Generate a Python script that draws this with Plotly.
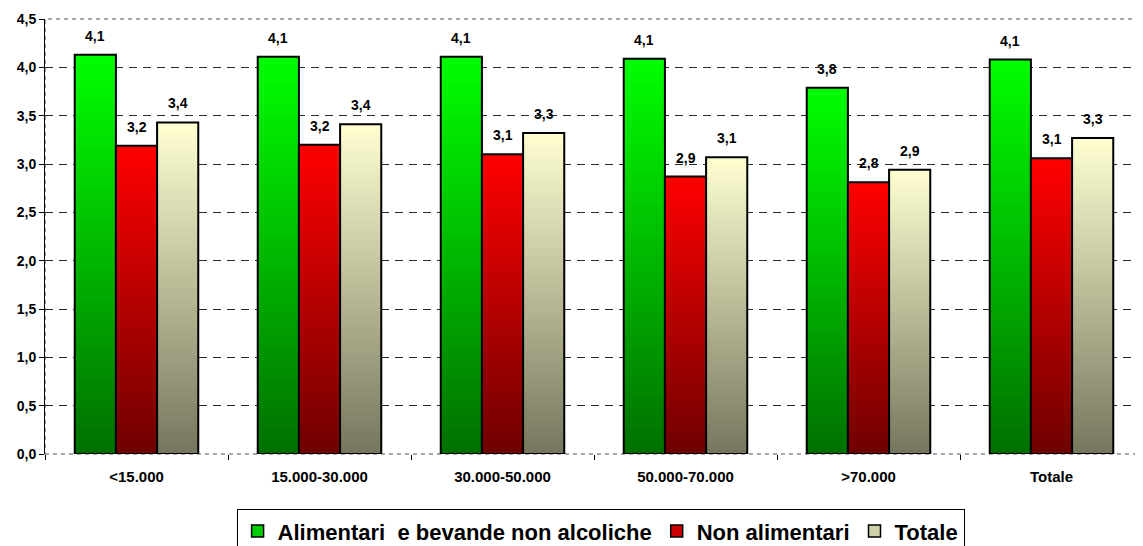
import plotly.graph_objects as go

categories = ["<15.000", "15.000-30.000", "30.000-50.000", "50.000-70.000", ">70.000", "Totale"]
alimentari = [4.13, 4.11, 4.11, 4.09, 3.79, 4.08]
non_alimentari = [3.19, 3.20, 3.10, 2.87, 2.81, 3.06]
totale = [3.43, 3.41, 3.32, 3.07, 2.94, 3.27]

series_names = ["Alimentari\u00a0 e bevande non alcoliche", "Non alimentari", "Totale"]
series_values = [alimentari, non_alimentari, totale]
# gradient stops: (bottom rgb, top rgb)
gradients = [
    ((0, 112, 0), (0, 255, 0)),
    ((110, 0, 0), (255, 0, 0)),
    ((118, 118, 94), (255, 255, 210)),
]

BAR_W = 0.225
GROUP_START = -0.3375
N_SEG = 60
FONT = "Liberation Sans, Arial, sans-serif"


def mix(c0, c1, f):
    return "rgb(%d,%d,%d)" % tuple(round(a + (b - a) * f) for a, b in zip(c0, c1))


fig = go.Figure()
annotations = []
for j, (name, vals, (cb, ct)) in enumerate(zip(series_names, series_values, gradients)):
    off = GROUP_START + j * BAR_W
    # gradient: overlapping bars from tallest to shortest
    for k in range(N_SEG, 0, -1):
        f = (k - 0.5) / N_SEG
        fig.add_trace(go.Bar(
            x=categories, y=[v * k / N_SEG for v in vals],
            width=BAR_W, offset=off,
            marker=dict(color=mix(cb, ct, f), line=dict(width=0)),
            showlegend=False, hoverinfo="skip",
        ))
    # outline
    fig.add_trace(go.Bar(
        x=categories, y=vals, width=BAR_W, offset=off,
        marker=dict(color="rgba(0,0,0,0)", line=dict(color="black", width=2)),
        showlegend=False, name=name,
    ))
    # legend entry
    fig.add_trace(go.Bar(
        x=[None], y=[None], name=name,
        marker=dict(color=mix(cb, ct, 0.65), line=dict(color="black", width=1.5)),
        showlegend=True,
    ))
    for i, v in enumerate(vals):
        annotations.append(dict(
            x=i + off + BAR_W / 2, y=v, xref="x", yref="y",
            text=f"{v:.1f}".replace(".", ","), showarrow=False,
            yanchor="bottom", yshift=9,
            font=dict(family=FONT, size=14, color="black", weight="bold"),
        ))

# the page body has an 8px margin, so the figure is sized/offset to fill the 1143x546 window
fig.update_layout(
    width=1135, height=538,
    margin=dict(l=37, r=0, t=11, b=92, autoexpand=False),
    plot_bgcolor="white", paper_bgcolor="white",
    barmode="overlay",
    separators=",.",
    font=dict(family=FONT, color="black"),
    annotations=annotations,
    showlegend=True,
    legend=dict(
        orientation="h", x=0.506, xanchor="center", y=-0.127, yanchor="top",
        bordercolor="black", borderwidth=1, bgcolor="white",
        font=dict(family=FONT, size=22, color="black", weight="bold"),
        itemwidth=30, tracegroupgap=0,
    ),
    shapes=[dict(
        type="rect", xref="paper", yref="paper", x0=0, x1=1, y0=0, y1=1,
        line=dict(color="#8c8c8c", width=1.5, dash="4px,4px"), layer="below",
    )],
)
fig.update_xaxes(
    type="category", range=[-0.5, 5.5], automargin=False,
    tickson="boundaries", ticks="outside", ticklen=5, tickcolor="black",
    showgrid=False, showline=False, zeroline=False,
    tickfont=dict(family=FONT, size=15, color="black", weight="bold"),
    ticklabelstandoff=12,
)
fig.update_yaxes(
    range=[0, 4.5], dtick=0.5, tick0=0, tickformat=".1f", automargin=False,
    showline=True, linecolor="black", linewidth=1,
    ticks="outside", ticklen=5, tickcolor="black",
    showgrid=True, gridcolor="#2a2a2a", gridwidth=1, griddash="8px,6px",
    zeroline=False,
    tickfont=dict(family=FONT, size=14, color="black", weight="bold"),
)

fig.write_html("out.html")
